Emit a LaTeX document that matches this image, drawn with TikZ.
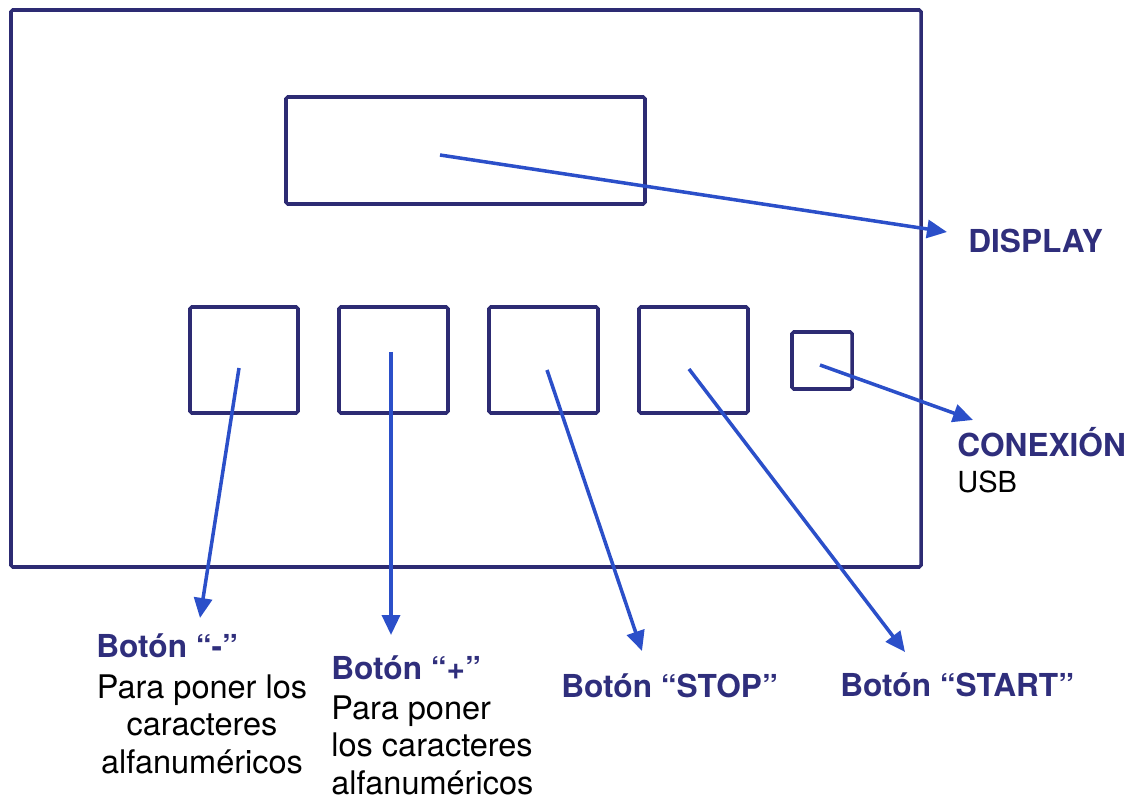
\documentclass[tikz,border=0pt]{standalone}
\usepackage{fontspec}
\setmainfont{TeX Gyre Heros}
\usetikzlibrary{arrows.meta,positioning,fit}

\definecolor{framenavy}{HTML}{2D2B73}
\definecolor{titlenavy}{HTML}{2F2E7C}
\definecolor{arrowblue}{HTML}{2B4FC9}

\begin{document}
\begin{tikzpicture}[
  x=0.02cm, y=-0.02cm,
  panel/.style={
    rectangle, draw=framenavy, line width=2pt,
    rounded corners=1pt, inner sep=0pt
  },
  pointer/.style={-{Triangle[length=0.4cm,width=0.36cm]}, arrowblue, line width=2pt},
  title/.style={anchor=base west, inner sep=0pt, text=titlenavy,
    font=\fontsize{18}{21.5}\selectfont\bfseries},
  note/.style={inner sep=0pt, font=\fontsize{18.5}{21.5}\selectfont},
]
  \useasboundingbox (0,0) rectangle (1130,797);

  % Housing and display
  \node[panel, fit={(11,10) (921,567)}] (case) {};
  \node[panel, fit={(286,97) (645,204)}] (lcd) {};

  % Buttons
  \node[panel, fit={(190,307) (298,413)}] (minus) {};
  \node[panel, fit={(339,307) (448,413)}] (plus) {};
  \node[panel, fit={(489,307) (598,413)}] (stop) {};
  \node[panel, fit={(639,307) (748,413)}] (start) {};

  % USB port
  \node[panel, fit={(792,332) (852,389)}] (usb) {};

  % Labels
  \node[title] (lcdlbl) at (968,253) {DISPLAY};
  \node[title] (minuslbl) at (96,657) {Botón “-”};
  \node[note, anchor=north, align=center] (minusnote) at (202,674)
    {Para poner los\\caracteres\\alfanuméricos};
  \node[title] (pluslbl) at (331,679) {Botón “+”};
  \node[note, anchor=north west, align=left] (plusnote) at (331,695)
    {Para poner\\los caracteres\\alfanuméricos};
  \node[title] (stoplbl) at (561,697) {Botón “STOP”};
  \node[title] (startlbl) at (840,696) {Botón “START”};
  \node[title] (usblbl) at (957,457) {CONEXIÓN};
  \node[note, anchor=base west, font=\fontsize{16.5}{20}\selectfont] (usbnote) at (957,492) {USB};

  % Arrow ends
  \coordinate (lcdfrom) at (440,155);
  \coordinate (lcdto) at (947,232);
  \coordinate (minusfrom) at (239,368);
  \coordinate (minusto) at (200,618);
  \coordinate (plusfrom) at (391,352);
  \coordinate (plusto) at (391,635);
  \coordinate (stopfrom) at (547,370);
  \coordinate (stopto) at (642,651);
  \coordinate (startfrom) at (689,369);
  \coordinate (startto) at (905,652);
  \coordinate (usbfrom) at (820,365);
  \coordinate (usbto) at (973,420);

  % Pointers
  \draw[pointer] (lcdfrom) -- (lcdto);
  \draw[pointer] (minusfrom) -- (minusto);
  \draw[pointer] (plusfrom) -- (plusto);
  \draw[pointer] (stopfrom) -- (stopto);
  \draw[pointer] (startfrom) -- (startto);
  \draw[pointer] (usbfrom) -- (usbto);
\end{tikzpicture}
\end{document}
